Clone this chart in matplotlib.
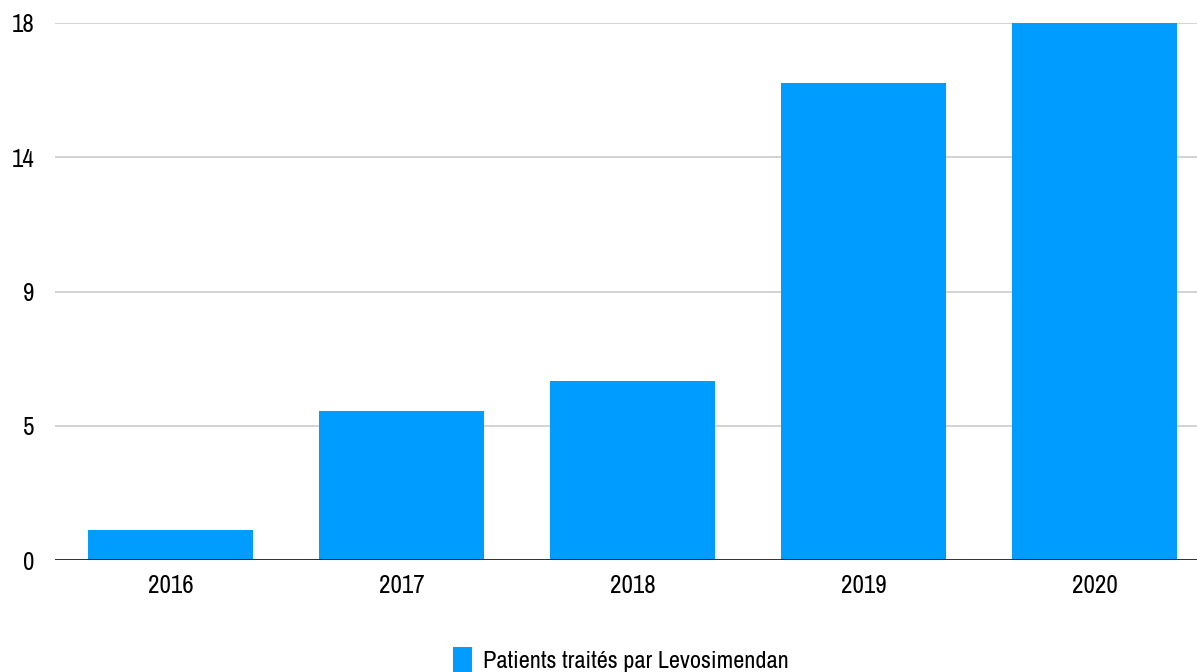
import numpy as np
import matplotlib.pyplot as plt

plt.rcParams['font.family'] = ['Archivo Narrow', 'Liberation Sans', 'DejaVu Sans']

years = ['2016', '2017', '2018', '2019', '2020']
patients = [1, 5, 6, 16, 18]
ytick_vals = [0, 4.5, 9, 13.5, 18]
ytick_labels = ['0', '5', '9', '14', '18']
bar_color = '#009cff'

fig = plt.figure(figsize=(11.97, 6.72), dpi=100)
ax = fig.add_axes([55 / 1197, 112 / 672, 1155 / 1197, 537 / 672])

x = np.arange(len(years))
ax.bar(x, patients, width=0.715, color=bar_color, zorder=3,
       label='Patients traités par Levosimendan')

ax.set_xlim(-0.5, len(years) - 0.5)
ax.set_ylim(0, 18)
ax.set_yticks(ytick_vals)
ax.set_yticklabels(ytick_labels)
ax.set_xticks(x)
ax.set_xticklabels(years)
ax.tick_params(axis='both', length=0, labelsize=18)
ax.tick_params(axis='y', pad=15)
ax.tick_params(axis='x', pad=10)
ax.grid(axis='y', color='#cccccc', linewidth=1.2, zorder=0)
ax.axhline(0, color='#222222', linewidth=2, zorder=4)
for s in ax.spines.values():
    s.set_visible(False)

leg = ax.legend(loc='upper center', bbox_to_anchor=(0.49, -0.143), frameon=False,
                fontsize=17.5, handlelength=0.75, handleheight=1.3, handletextpad=0.45,
                borderaxespad=0)

fig.savefig('out.png', dpi=100)
